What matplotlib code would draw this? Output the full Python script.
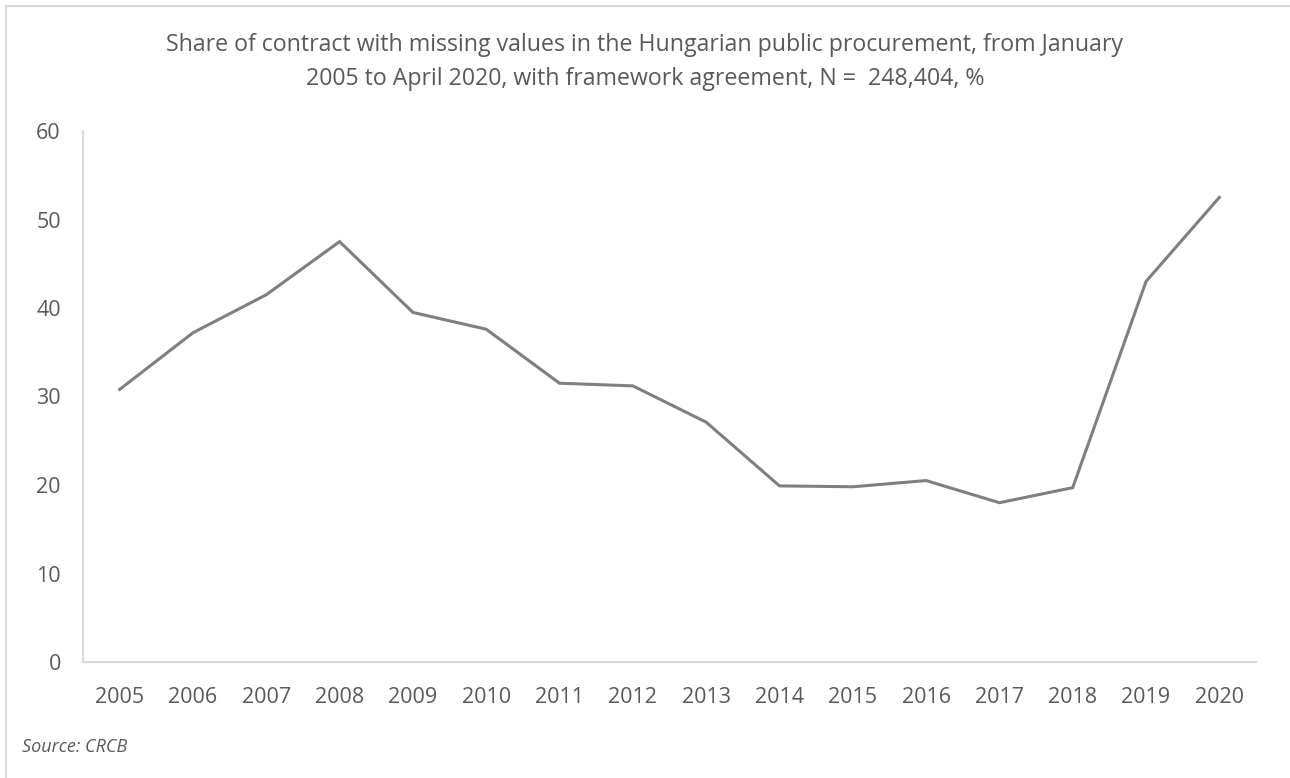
import matplotlib.pyplot as plt
from matplotlib.lines import Line2D

years = ["2005", "2006", "2007", "2008", "2009", "2010", "2011", "2012",
         "2013", "2014", "2015", "2016", "2017", "2018", "2019", "2020"]
share = [30.8, 37.2, 41.5, 47.5, 39.5, 37.6, 31.5, 31.2,
         27.1, 19.9, 19.8, 20.5, 18.0, 19.7, 43.0, 52.5]
yticks = [0, 10, 20, 30, 40, 50, 60]

plt.rcParams['font.family'] = ['Open Sans', 'DejaVu Sans']
text_col = "#595959"

fig = plt.figure(figsize=(12.9, 7.78), dpi=100)
ax = fig.add_axes([83/1290, 116/778, (1256-83)/1290, (662-131)/778])

x = list(range(len(years)))
ax.plot(x, share, color="#7F7F7F", linewidth=2.2, solid_joinstyle="miter")

ax.set_xlim(-0.5, len(years) - 0.5)
ax.set_ylim(0, 60)
ax.set_xticks(x)
ax.set_xticklabels(years)
ax.set_yticks(yticks)

for s in ["top", "right"]:
    ax.spines[s].set_visible(False)
for s in ["left", "bottom"]:
    ax.spines[s].set_color("#D9D9D9")
    ax.spines[s].set_linewidth(1.5)

ax.tick_params(axis="both", length=0, labelsize=15.5, labelcolor=text_col)
ax.tick_params(axis="x", pad=18)
ax.tick_params(axis="y", pad=16)

fig.text(0.5, 1 - 45/778, "Share of contract with missing values in the Hungarian public procurement, from January",
         ha="center", va="center", fontsize=16.7, color=text_col)
fig.text(0.5, 1 - 79/778, "2005 to April 2020, with framework agreement, N =  248,404, %",
         ha="center", va="center", fontsize=16.7, color=text_col)

fig.text(22/1290, 1 - 747/778, "Source: CRCB", ha="left", va="center",
         fontsize=13, style="italic", color=text_col)

# chart frame (top and left edges visible)
fig.add_artist(Line2D([6/1290, 1], [1 - 6/778, 1 - 6/778], color="#D9D9D9", linewidth=1.5))
fig.add_artist(Line2D([6/1290, 6/1290], [0, 1 - 6/778], color="#D9D9D9", linewidth=1.5))

fig.savefig("out.png", dpi=100)
